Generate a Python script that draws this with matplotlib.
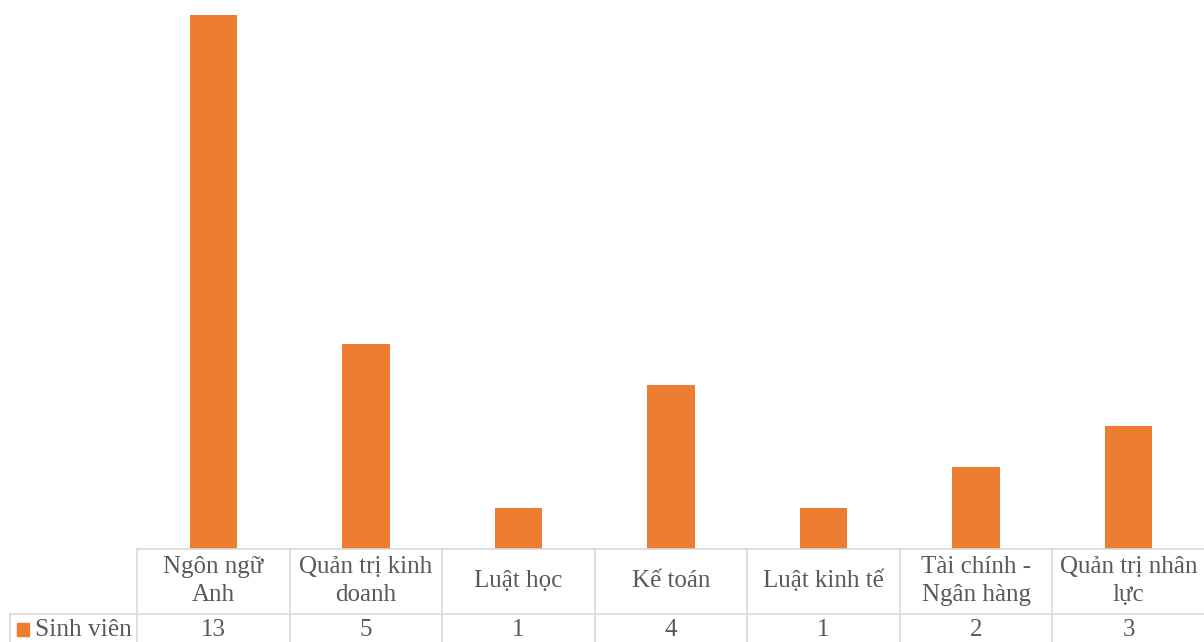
import matplotlib
matplotlib.use("Agg")
import matplotlib.pyplot as plt
from matplotlib.patches import Rectangle

categories = ["Ngôn ngữ\nAnh", "Quản trị kinh\ndoanh", "Luật học", "Kế toán",
              "Luật kinh tế", "Tài chính -\nNgân hàng", "Quản trị nhân\nlực"]
values = [13, 5, 1, 4, 1, 2, 3]
series_name = "Sinh viên"

ORANGE = "#ED7D31"
TEXT = "#595959"
GRID = "#D9D9D9"
plt.rcParams['font.family'] = ['Liberation Serif', 'DejaVu Serif']

W, H = 1204, 642
fig = plt.figure(figsize=(W / 100, H / 100), dpi=100)
ax_left = 137 / W
ax_bottom = (H - 549) / H
ax = fig.add_axes([ax_left, ax_bottom, 1.0 - ax_left + 1 / W, 1 - ax_bottom])
x = list(range(len(categories)))
ax.bar(x, values, width=0.31, color=ORANGE, zorder=2)
ax.set_xlim(-0.5, len(categories) - 0.5)
ax.set_ylim(0, 549 / 41.1)
for s in ax.spines.values():
    s.set_visible(False)
ax.set_xticks([])
ax.set_yticks([])

axh = 549.0
def ay(py):
    return -(py - 549) / axh

tr = ax.get_xaxis_transform()
n = len(categories)
# table lines
ax.plot([-0.5, n - 0.5], [0, 0], transform=tr, color=GRID, lw=1.2, clip_on=False)
for i in range(n + 1):
    ax.plot([i - 0.5, i - 0.5], [0, ay(645)], transform=tr, color=GRID, lw=1.2, clip_on=False)
# row separator extends into label column, plus label cell left border
yrow = (H - 614) / H
fig.add_artist(plt.Line2D([10 / W, 1], [yrow, yrow], color=GRID, lw=1.2))
fig.add_artist(plt.Line2D([10 / W, 10 / W], [yrow, -0.01], color=GRID, lw=1.2))

for i, (c, v) in enumerate(zip(categories, values)):
    ax.text(i, ay(581), c, transform=tr, ha="center", va="center", fontsize=18,
            color=TEXT, linespacing=1.3, clip_on=False)
    ax.text(i, ay(630), str(v), transform=tr, ha="center", va="center", fontsize=18,
            color=TEXT, clip_on=False)

# legend key + series label
fig.add_artist(Rectangle((17 / W, (H - 636) / H), 12 / W, 13 / H, color=ORANGE,
                         transform=fig.transFigure))
fig.text(35 / W, (H - 630) / H, series_name, ha="left", va="center", fontsize=18.3, color=TEXT)

fig.savefig("out.png", dpi=100, facecolor="white")
